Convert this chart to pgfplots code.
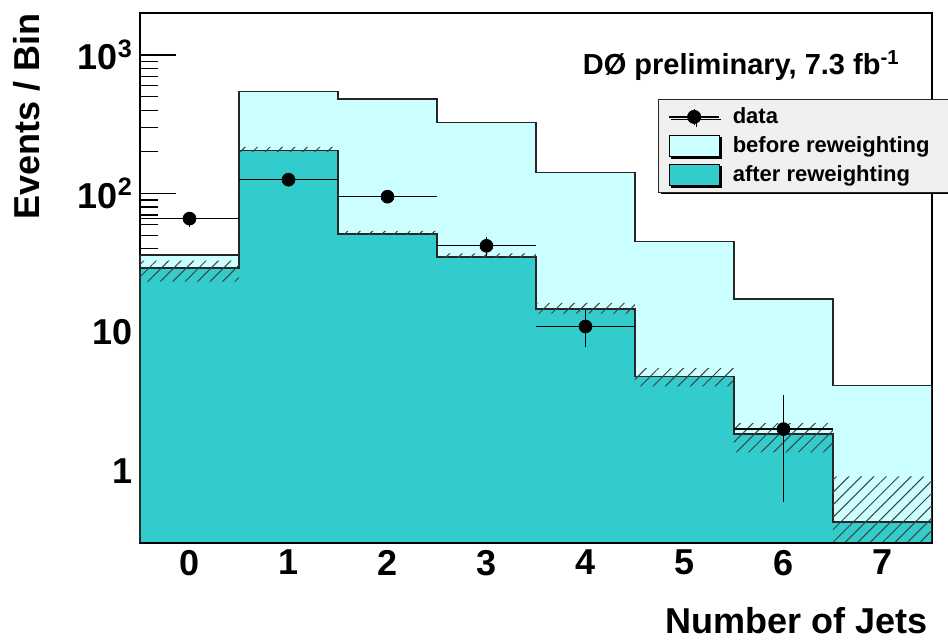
\documentclass[border=0pt]{standalone}
\usepackage{fontspec}
\setmainfont{Liberation Sans}
\usepackage{pgfplots}
\usepackage{pgfplotstable}
\pgfplotsset{compat=1.18}
\usetikzlibrary{patterns.meta,shadows}

\definecolor{before}{HTML}{CCFFFF}
\definecolor{after}{HTML}{33CCCC}

% bin lower edges; the last row repeats the last bin to close the step at 7.5
\pgfplotstableread{
edge before after
-0.5 36.1   29.0
0.5  544    204
1.5  482    51.0
2.5  325    35.0
3.5  142    14.7
4.5  45.1   4.80
5.5  17.4   1.84
6.5  4.11   0.427
7.5  4.11   0.427
}\hist

% observed events with asymmetric uncertainties
\pgfplotstableread{
x y   ex  ep   em
0 66  0.5 8.1  8.1
1 126 0.5 11.2 11.2
2 95  0.5 9.7  9.7
3 42  0.5 6.5  6.5
4 11  0.5 3.5  3.2
6 2   0.5 1.5  1.4
}\data

\begin{document}
\begin{tikzpicture}
\begin{axis}[
  scale only axis, width=396pt, height=265pt,
  ymode=log, ymin=0.3015, ymax=2010,
  xmin=-0.5, xmax=7.5,
  log origin=infty,
  xtick={0,...,7}, xticklabels={0,1,2,3,4,5,6,7},
  ytick={1,10,100,1000},
  yticklabels={1,10,10\textsuperscript{2},10\textsuperscript{3}},
  tick align=inside, xtick pos=bottom, ytick pos=left,
  major tick length=18pt, minor tick length=9pt,
  tick style={black, line width=0.6pt},
  tick label style={font=\bfseries\fontsize{18}{20}\selectfont},
  axis line style={line width=0.7pt},
  every axis y label/.style={at={([xshift=-50pt]rel axis cs:0,1)}, rotate=90,
    anchor=base east, inner sep=0pt, font=\bfseries\fontsize{18}{20}\selectfont},
  every axis x label/.style={at={([xshift=-2pt,yshift=-45.5pt]rel axis cs:1,0)},
    anchor=base east, inner sep=0pt, font=\bfseries\fontsize{18}{20}\selectfont},
  ylabel={Events / Bin},
  xlabel={Number of Jets},
  legend style={at={(rel axis cs:0.654,0.838)}, anchor=north west,
    draw=black!85, fill=black!6, line width=0.6pt,
    font=\bfseries\fontsize{11}{13}\selectfont,
    inner xsep=5pt, inner ysep=2pt, row sep=1pt, column sep=3.5pt,
    nodes={inner xsep=3pt, inner ysep=2pt},
    cells={anchor=west},
    drop shadow={shadow xshift=1.1pt, shadow yshift=-1.1pt, fill=black, opacity=1}},
]
\coordinate (bl) at (rel axis cs:0,0);
\coordinate (tr) at (rel axis cs:1,1);

\addlegendimage{legend image code/.code={
  \draw[black, line width=0.6pt] (0pt,0pt) -- (25pt,0pt);
  \draw[black, line width=0.6pt] (12.5pt,-4pt) -- (12.5pt,4pt);
  \begin{scope}\pgftransformshift{\pgfpoint{12.5pt}{0pt}}\pgfuseplotmark{*}\end{scope}},
  mark=*, mark size=3.2pt, black}
\addlegendentry{data}
\addlegendimage{legend image code/.code={
  \draw[fill=before, draw=black, line width=0.6pt] (0pt,-5.25pt) rectangle (25pt,5.25pt);}}
\addlegendentry{before reweighting\hspace*{14pt}}
\addlegendimage{legend image code/.code={
  \draw[fill=after, draw=black, line width=0.6pt] (0pt,-5.25pt) rectangle (25pt,5.25pt);}}
\addlegendentry{after reweighting}

% before reweighting
\addplot[const plot, fill=before, draw=black!85, line width=0.7pt, forget plot]
  table[x=edge, y=before] {\hist} \closedcycle;
% after reweighting
\addplot[const plot, fill=after, draw=black!85, line width=0.7pt, forget plot]
  table[x=edge, y=after] {\hist} \closedcycle;
% uncertainty band on the reweighted prediction: upper edge left to right,
% lower edge right to left
\addplot[pattern={Lines[angle=45, distance=4.4pt, line width=0.5pt]},
  pattern color=black!75, draw=none, forget plot] coordinates {
  (-0.5,32.9) (0.5,32.9) (0.5,217) (1.5,217) (1.5,53.9) (2.5,53.9)
  (2.5,37.0) (3.5,37.0) (3.5,16.3) (4.5,16.3) (4.5,5.51) (5.5,5.51)
  (5.5,2.21) (6.5,2.21) (6.5,0.91) (7.5,0.91)
  (7.5,0.2) (6.5,0.2) (6.5,1.36) (5.5,1.36) (5.5,4.06) (4.5,4.06)
  (4.5,13.6) (3.5,13.6) (3.5,34.4) (2.5,34.4) (2.5,50.4) (1.5,50.4)
  (1.5,200) (0.5,200) (0.5,23.2) (-0.5,23.2)} -- cycle;
% data
\addplot[only marks, mark=*, mark size=3.2pt, black, forget plot,
  error bars/.cd, x dir=both, x explicit, y dir=both, y explicit,
  error mark=none, error bar style={line width=0.6pt, black}]
  table[x=x, y=y, x error=ex, y error plus=ep, y error minus=em] {\data};

\draw[line width=0.7pt] (rel axis cs:0,0) -- (rel axis cs:1,0);
\node[anchor=base east, inner sep=0pt, font=\bfseries\fontsize{14.5}{16}\selectfont]
  at ([xshift=-16pt,yshift=-31pt]rel axis cs:1,1) {DØ preliminary, 7.3 fb\textsuperscript{-1}};
\end{axis}
\pgfresetboundingbox
\path ([xshift=-70pt,yshift=-49pt]bl) rectangle ([xshift=8pt,yshift=6.5pt]tr);
\end{tikzpicture}
\end{document}
